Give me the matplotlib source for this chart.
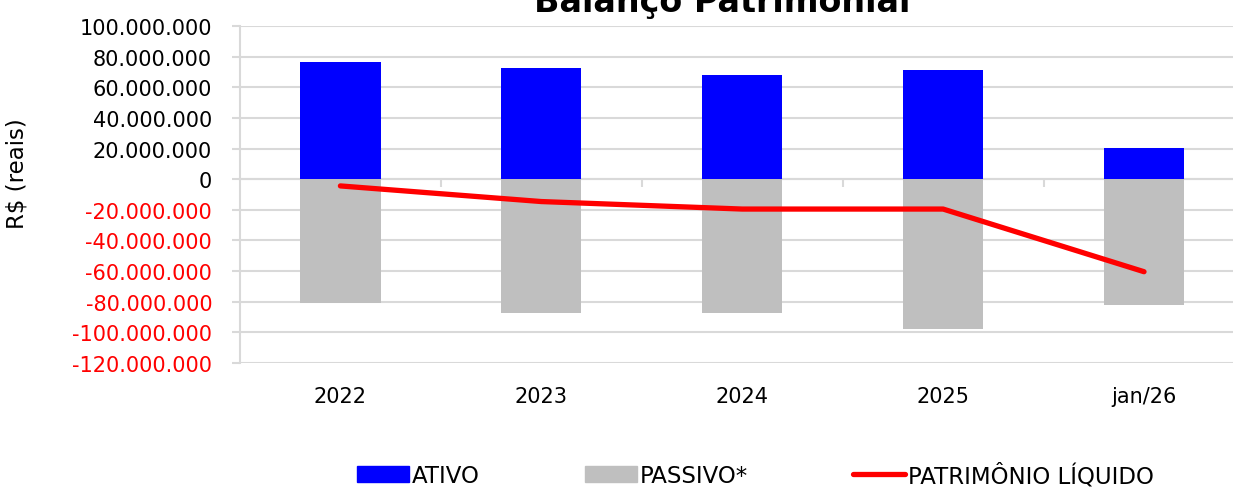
import numpy as np
import matplotlib.pyplot as plt
from matplotlib.ticker import FuncFormatter, FixedLocator
from matplotlib.transforms import blended_transform_factory
from matplotlib.patches import Patch
from matplotlib.lines import Line2D

plt.rcParams['font.family'] = ['DejaVu Sans']

# valores (R$)
categorias = ['2022', '2023', '2024', '2025', 'jan/26']
ativo = [76_400_000, 72_800_000, 67_800_000, 71_000_000, 20_600_000]
passivo = [-80_800_000, -87_500_000, -87_500_000, -97_500_000, -81_900_000]
patrimonio_liquido = [-4_400_000, -14_600_000, -19_500_000, -19_500_000, -60_400_000]

def fmt_reais(v, pos=None):
    s = f"{abs(int(round(v))):,}".replace(',', '.')
    return ('-' if v < 0 else '') + s

fig = plt.figure(figsize=(12.33, 4.89), dpi=100)
ax = fig.add_axes([0.1946, 0.2556, 1.0093 - 0.1946, 0.9448 - 0.2556])

x = np.arange(len(categorias))
ax.bar(x, ativo, width=0.4, color='#0000ff', zorder=3)
ax.bar(x, passivo, width=0.4, color='#bfbfbf', zorder=3)
ax.plot(x, patrimonio_liquido, color='#ff0000', lw=3.8, solid_capstyle='round',
        solid_joinstyle='round', zorder=4)

ax.set_xlim(-0.5, len(categorias) - 0.5)
ax.set_ylim(-120_000_000, 100_000_000)
ax.set_yticks(np.arange(-120_000_000, 100_000_001, 20_000_000))
ax.yaxis.set_major_formatter(FuncFormatter(fmt_reais))
ax.grid(axis='y', color='#d9d9d9', lw=1.5, zorder=0)
ax.tick_params(axis='y', length=6, width=1.5, color='#d9d9d9', pad=14, labelsize=15)
for lbl, v in zip(ax.get_yticklabels(), ax.get_yticks()):
    lbl.set_color('#ff0000' if v < 0 else 'black')

# eixo horizontal cruzando em zero
for s in ['top', 'right']:
    ax.spines[s].set_visible(False)
ax.spines['left'].set_color('#d9d9d9')
ax.spines['left'].set_linewidth(1.5)
ax.spines['bottom'].set_position(('data', 0))
ax.spines['bottom'].set_color('#d9d9d9')
ax.spines['bottom'].set_linewidth(1.5)
ax.spines['bottom'].set_zorder(2)
ax.xaxis.set_major_locator(FixedLocator(x[:-1] + 0.5))
ax.tick_params(axis='x', length=6, width=1.5, color='#d9d9d9', labelbottom=False)

trans = blended_transform_factory(ax.transData, ax.transAxes)
for xi, cat in zip(x, categorias):
    ax.text(xi, -0.098, cat, transform=trans, ha='center', va='center', fontsize=15)

ax.set_ylabel('R$ (reais)', fontsize=16.5)
ax.yaxis.set_label_coords(-0.21, 0.566)

fig.text(0.586, 0.975, 'Balanço Patrimonial', ha='center', va='baseline',
         fontsize=24, fontweight='bold')

handles = [Patch(color='#0000ff'), Patch(color='#bfbfbf'),
           Line2D([], [], color='#ff0000', lw=3.8, solid_capstyle='round')]
fig.legend(handles, ['ATIVO', 'PASSIVO*', 'PATRIMÔNIO LÍQUIDO'],
           loc='center', bbox_to_anchor=(0.6125, 0.027), ncol=3, frameon=False,
           fontsize=16.5, handlelength=2.27, handleheight=0.7, handletextpad=0.12,
           columnspacing=4.6)

fig.savefig('out.png', dpi=100)
